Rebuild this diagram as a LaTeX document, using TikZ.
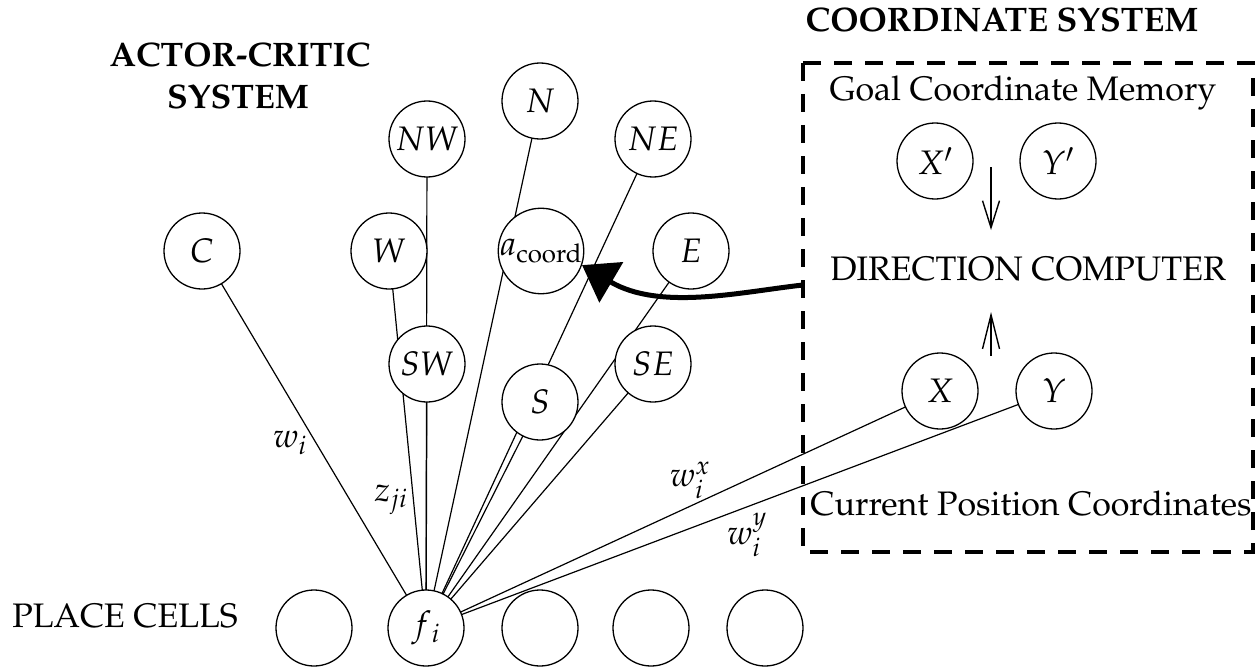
\documentclass[tikz,border=0pt]{standalone}
\usepackage[T1]{fontenc}
\usepackage{mathpazo}
\usetikzlibrary{arrows.meta,backgrounds}
\newcommand\figfont{\fontsize{34}{40}\selectfont}

\begin{document}
\begin{tikzpicture}[x=1pt,y=-1pt,
  unit/.style={circle,draw,fill=white,line width=1.3pt,minimum size=76pt,inner sep=0pt,font=\figfont},
  wire/.style={line width=1.2pt},
  txt/.style={inner sep=0pt,anchor=base,font=\figfont},
  head/.style={inner sep=0pt,anchor=base,font=\figfont\bfseries},
  lbl/.style={inner sep=0pt,font=\figfont},
  small arrow/.style={line width=1.4pt,-{Straight Barb[length=#1,width=17pt]}}]
\useasboundingbox (0,0) rectangle (1257,666);

% headings
\node[head] (ac1) at (240,67) {ACTOR-CRITIC};
\node[head] (ac2) at (238,109) {SYSTEM};
\node[head] (cs) at (1002,32) {COORDINATE SYSTEM};
\node[txt] (pc) at (125,627) {PLACE CELLS};

% actor-critic units
\node[unit] (C) at (202,251) {$C$};
\node[unit] (W) at (389,251) {$W$};
\node[unit] (NW) at (427,139) {$NW$};
\node[unit] (N) at (540,101) {$N$};
\node[unit] (NE) at (653,139) {$NE$};
\node[unit] (ac) at (541,251) {$a_{\mathrm{coord}}$};
\node[unit] (E) at (691,251) {$E$};
\node[unit] (SW) at (427,364) {$SW$};
\node[unit] (S) at (540,402) {$S$};
\node[unit] (SE) at (653,364) {$SE$};

% place cells
\node[unit] (p1) at (314,628) {};
\node[unit] (fi) at (426,628) {$f_{\,i}$};
\node[unit] (p3) at (540,628) {};
\node[unit] (p4) at (651,628) {};
\node[unit] (p5) at (765,628) {};

% coordinate system
\draw[line width=4pt,dash pattern=on 18pt off 13pt] (803,63) rectangle (1253,552);
\node[txt] (gm) at (1023,101) {Goal Coordinate Memory};
\node[unit] (Xg) at (935,161) {$X'$};
\node[unit] (Yg) at (1058,161) {$Y'$};
\node[txt] (dc) at (1028,280) {DIRECTION COMPUTER};
\node[unit] (X) at (940,391) {$X$};
\node[unit] (Y) at (1054,391) {$Y$};
\node[txt] (cp) at (1031,515) {Current Position Coordinates};

\coordinate (g1) at (991,167);
\coordinate (g2) at (991,230);
\coordinate (c1) at (991,356);
\coordinate (c2) at (991,312);
\draw[small arrow=27pt] (g1) -- (g2);
\draw[small arrow=34pt] (c1) -- (c2);

% output of the direction computer
\coordinate (port) at (803,285);
\draw[line width=5pt,-{Triangle[length=34pt,width=46pt]}]
  (port) .. controls (740,292) and (660,311) .. (ac.-19);

% weight labels
\node[lbl] (lw) at (290,443) {$w_i$};
\node[lbl] (lz) at (391,500) {$z_{ji}$};
\node[lbl] (lwx) at (690,480) {$w_i^x$};
\node[lbl] (lwy) at (747,535) {$w_i^y$};

% connections from the place cell
\begin{pgfonlayer}{background}
\foreach \t in {C,W,NW,N,NE,E,SW,S,SE,X,Y}
  \draw[wire] (fi.center) -- (\t.center);
\end{pgfonlayer}
\end{tikzpicture}
\end{document}
